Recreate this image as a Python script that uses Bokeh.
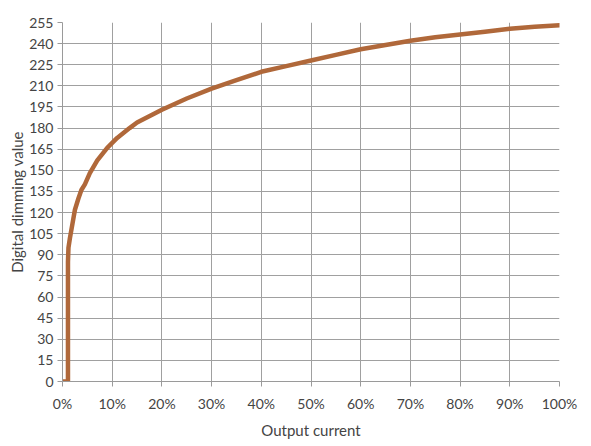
from bokeh.plotting import figure
from bokeh.models import FixedTicker, CustomJSTickFormatter, Range1d
from bokeh.embed import file_html
from bokeh.resources import INLINE

output_current = [0, 1.1, 1.1, 1.2, 1.5, 2.0, 2.5, 3.2, 3.8, 4.5, 5.5, 7, 9, 11, 13.5, 15,
                  20, 25, 30, 35, 40, 45, 50, 55, 60, 65, 70, 75, 80, 85, 90, 95, 100]
dimming_value = [0, 0, 85, 95, 102, 112, 122, 130, 136, 140, 148, 157, 166, 173, 180, 184,
                 193, 201, 208, 214, 220, 224, 228, 232, 236, 239, 242, 244.5, 246.5, 248.5,
                 250.5, 252, 253]
x_ticks = list(range(0, 101, 10))
y_ticks = list(range(0, 256, 15))

FONT = "Lato"
p = figure(frame_width=497, frame_height=359, output_backend="svg", toolbar_location=None,
           x_range=Range1d(0, 100), y_range=Range1d(0, 255),
           min_border_left=40, min_border_right=23, min_border_top=22, min_border_bottom=49,
           margin=(0, 0, 0, 5))
p.outline_line_color = None

p.line(output_current, dimming_value, line_color="#b0683a", line_width=4.5,
       line_join="round", line_cap="round")

for ax in (p.xaxis, p.yaxis):
    ax.axis_line_color = "#9a9a9a"
    ax.major_tick_line_color = "#9a9a9a"
    ax.major_tick_out = 5
    ax.major_tick_in = 0
    ax.minor_tick_line_color = None
    ax.major_label_text_font = FONT
    ax.major_label_text_font_size = "14px"
    ax.major_label_text_color = "#444444"
    ax.axis_label_text_font = FONT
    ax.axis_label_text_font_size = "15px"
    ax.axis_label_text_font_style = "normal"
    ax.axis_label_text_color = "#444444"

p.xaxis.ticker = FixedTicker(ticks=x_ticks)
p.yaxis.ticker = FixedTicker(ticks=y_ticks)
p.xaxis.formatter = CustomJSTickFormatter(code="return tick.toFixed(0) + '%';")
p.xaxis.axis_label = "Output current"
p.yaxis.axis_label = "Digital dimming value"
p.xaxis.major_label_standoff = 8
p.yaxis.major_label_standoff = 4
p.xaxis.axis_label_standoff = 6
p.yaxis.axis_label_standoff = 0

p.xgrid.ticker = FixedTicker(ticks=x_ticks)
p.ygrid.ticker = FixedTicker(ticks=y_ticks)
p.xgrid.grid_line_color = "#a0a0a0"
p.ygrid.grid_line_color = "#a0a0a0"
p.xgrid.grid_line_width = 1
p.ygrid.grid_line_width = 1

open("out.html", "w").write(file_html(p, INLINE))
